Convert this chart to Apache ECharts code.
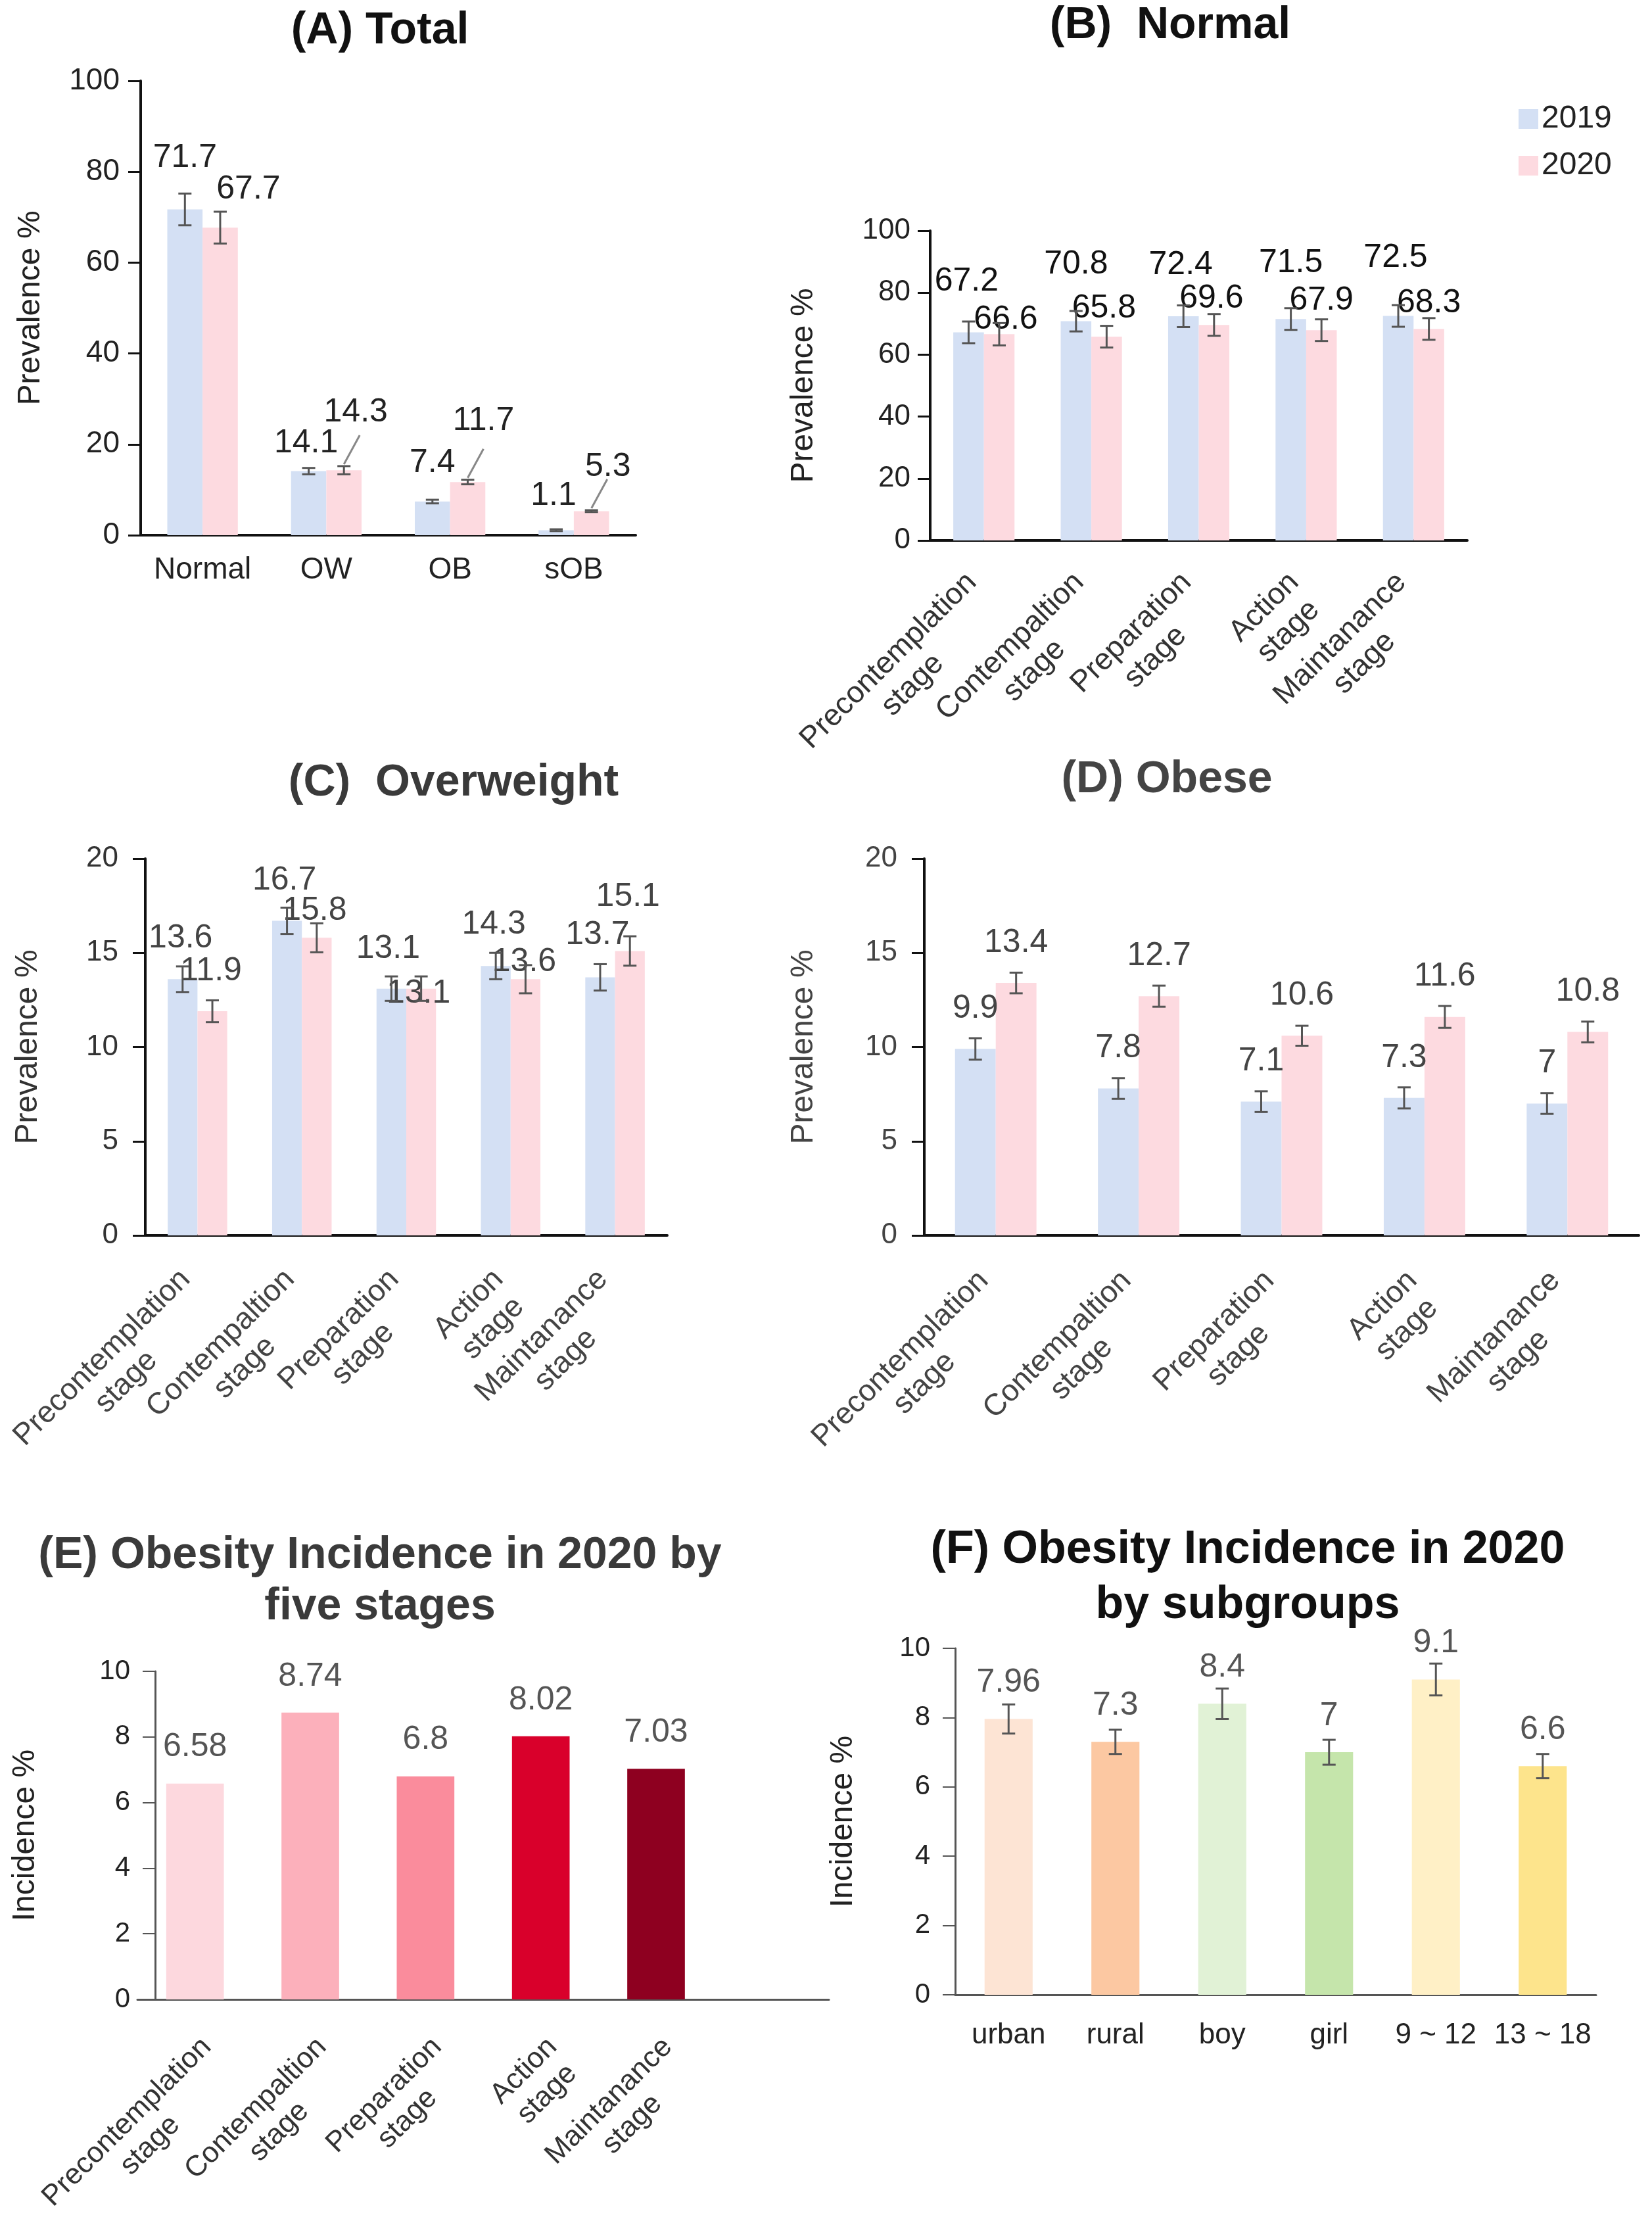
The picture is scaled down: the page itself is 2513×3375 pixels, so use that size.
<!DOCTYPE html>
<html>
<head>
<meta charset="utf-8">
<title>Obesity prevalence and incidence</title>
<script src="https://cdn.jsdelivr.net/npm/echarts@6/dist/echarts.min.js"></script>
<style>
html, body { margin: 0; padding: 0; background: #fff; }
#main { width: 2513px; height: 3375px; }
</style>
</head>
<body>
<div id="main"></div>
<script>
// ---- data ----
var catsA = ['Normal', 'OW', 'OB', 'sOB'];
var a2019 = [71.7, 14.1, 7.4, 1.1];
var a2020 = [67.7, 14.3, 11.7, 5.3];
var aErr2019 = [3.5, 0.7, 0.4, 0.2];
var aErr2020 = [3.5, 0.9, 0.5, 0.2];

var stages = ['Precontemplation\nstage', 'Contempaltion\nstage', 'Preparation\nstage', 'Action\nstage', 'Maintanance\nstage'];

var b2019 = [67.2, 70.8, 72.4, 71.5, 72.5];
var b2020 = [66.6, 65.8, 69.6, 67.9, 68.3];
var bErr2019 = [3.5, 3.3, 3.5, 3.5, 3.5];
var bErr2020 = [3.6, 3.5, 3.5, 3.5, 3.5];

var c2019 = [13.6, 16.7, 13.1, 14.3, 13.7];
var c2020 = [11.9, 15.8, 13.1, 13.6, 15.1];
var cErr2019 = [0.68, 0.7, 0.65, 0.7, 0.7];
var cErr2020 = [0.58, 0.77, 0.65, 0.75, 0.78];

var d2019 = [9.9, 7.8, 7.1, 7.3, 7];
var d2020 = [13.4, 12.7, 10.6, 11.6, 10.8];
var dErr2019 = [0.57, 0.55, 0.55, 0.56, 0.55];
var dErr2020 = [0.55, 0.56, 0.53, 0.58, 0.55];

var eVals = [6.58, 8.74, 6.8, 8.02, 7.03];

var fCats = ['urban', 'rural', 'boy', 'girl', '9 ~ 12', '13 ~ 18'];
var fVals = [7.96, 7.3, 8.4, 7, 9.1, 6.6];
var fErr = [0.42, 0.35, 0.44, 0.36, 0.46, 0.35];

// ---- colours / layout ----
var C2019 = '#d4e0f4', C2020 = '#fddae0';
var eColors = ['#fdd8de', '#fcb0bb', '#fa8c9c', '#d9002b', '#8e0020'];
var fColors = ['#fde4d4', '#fcc8a2', '#e1f2d6', '#c5e5ab', '#fff0c6', '#fde48c'];
var FONT = "'Liberation Sans', Arial, sans-serif";

// label nudges (pixels) so labels sit where the figure has them
var aDx19 = [0, -4, 0, -4], aDy19 = [-48, -12, -29, -22];
var aDx20 = [43, 18, 24, 25], aDy20 = [-28, -58, -63, -37];
var aLeader = [0, 1, 1, 1];
var bDx19 = [-3, 0, -4, 0, -4], bDy19 = [-47, -56, -48, -55, -58];
var bDx20 = [10, -4, -4, 0, 0], bDy20 = [8, -13, -10, -15, -9];
var cDx19 = [-3, -4, -5, -3, -4], cDy19 = [-32, -31, -30, -33, -34];
var cDx20 = [-2, -3, -4, -2, -3], cDy20 = [-31, -11, 38, 4, -52];

// error bar drawn at the middle of a grouped bar
function errorBar(frac, side) {
	return function (params, api) {
		var c = api.value(0), v = api.value(1), e = api.value(2);
		var band = api.size([1, 0])[0];
		var x = api.coord([c, v])[0] + side * frac * band / 2;
		var hi = api.coord([c, v + e])[1];
		var lo = api.coord([c, v - e])[1];
		var cw = 10;
		var st = { stroke: '#555', lineWidth: 3 };
		return {
			type: 'group',
			children: [
				{ type: 'line', shape: { x1: x, y1: hi, x2: x, y2: lo }, style: st },
				{ type: 'line', shape: { x1: x - cw, y1: hi, x2: x + cw, y2: hi }, style: st },
				{ type: 'line', shape: { x1: x - cw, y1: lo, x2: x + cw, y2: lo }, style: st }
			]
		};
	};
}

function errSeries(g, vals, errs, frac, side) {
	return {
		type: 'custom', xAxisIndex: g, yAxisIndex: g, silent: true, z: 10,
		renderItem: errorBar(frac, side),
		encode: { x: 0, y: 1 },
		data: vals.map(function (v, i) { return [i, v, errs[i]]; })
	};
}

// short slanted guide line from the top of the error bar towards its label
function leaderLine(frac, side) {
	return function (params, api) {
		if (!api.value(3)) return null;
		var c = api.value(0), v = api.value(1), e = api.value(2);
		var band = api.size([1, 0])[0];
		var x = api.coord([c, v])[0] + side * frac * band / 2;
		var y = api.coord([c, v + e])[1] - 3;
		return { type: 'line', shape: { x1: x, y1: y, x2: x + 24, y2: y - 44 },
			style: { stroke: '#888', lineWidth: 3 } };
	};
}

function barSeries(g, name, vals, color, width, dx, dy, labelColor) {
	return {
		type: 'bar', name: name, xAxisIndex: g, yAxisIndex: g,
		barWidth: width, barGap: '0%',
		itemStyle: { color: color },
		data: vals,
		label: { show: true, position: 'top', distance: 5, fontSize: 50, color: labelColor, fontFamily: FONT },
		labelLayout: function (p) { return { dx: dx[p.dataIndex], dy: dy[p.dataIndex] }; }
	};
}

function stageLabel(size, color, margin, vAlign) {
	var o = {
		interval: 0, rotate: 45, margin: margin, fontSize: size, color: color,
		formatter: function (v, idx) {
			if (v === undefined || v === null || idx >= stages.length) return '';
			return String(v).split('\n').map(function (s) { return '{c|' + s + '}'; }).join('\n');
		},
		rich: { c: { align: 'center', fontSize: size, lineHeight: size + 6, color: color, fontFamily: FONT } }
	};
	if (vAlign) o.verticalAlign = vAlign;
	return o;
}

function yAx(g, max, step, name, gap, lineColor, lineW, labelColor, labelSize, labelMargin) {
	return {
		type: 'value', gridIndex: g, min: 0, max: max, interval: step,
		name: name, nameLocation: 'middle', nameGap: gap,
		nameTextStyle: { fontSize: 48, color: labelColor, fontFamily: FONT },
		axisLine: { show: true, lineStyle: { color: lineColor, width: lineW } },
		axisTick: { show: true, length: 19, lineStyle: { color: lineColor, width: lineW - 1 } },
		splitLine: { show: false },
		axisLabel: { fontSize: labelSize, color: labelColor, margin: labelMargin }
	};
}

function gridAt(l, t, w, h) {
	return { left: l, top: t, width: w, height: h, containLabel: false, outerBoundsMode: 'none' };
}

var dark = '#111', gray = '#555';

var option = {
	backgroundColor: '#fff',
	animation: false,
	textStyle: { fontFamily: FONT },
	title: [
		{ text: '(A) Total', left: 578, top: 8, textAlign: 'center', padding: 0,
		  textStyle: { fontSize: 68, fontWeight: 'bold', color: '#111', lineHeight: 78 } },
		{ text: '(B)  Normal', left: 1780, top: 0, textAlign: 'center', padding: 0,
		  textStyle: { fontSize: 68, fontWeight: 'bold', color: '#111', lineHeight: 78 } },
		{ text: '(C)  Overweight', left: 690, top: 1152, textAlign: 'center', padding: 0,
		  textStyle: { fontSize: 68, fontWeight: 'bold', color: '#3a3a3a', lineHeight: 78 } },
		{ text: '(D) Obese', left: 1775, top: 1147, textAlign: 'center', padding: 0,
		  textStyle: { fontSize: 68, fontWeight: 'bold', color: '#444', lineHeight: 78 } },
		{ text: '(E) Obesity Incidence in 2020 by\nfive stages', left: 578, top: 2327, textAlign: 'center', padding: 0,
		  textStyle: { fontSize: 68, fontWeight: 'bold', color: '#3a3a3a', lineHeight: 78 } },
		{ text: '(F) Obesity Incidence in 2020\nby subgroups', left: 1898, top: 2316, textAlign: 'center', padding: 0,
		  textStyle: { fontSize: 70, fontWeight: 'bold', color: '#111', lineHeight: 84 } }
	],
	legend: {
		data: ['2019', '2020'], orient: 'vertical', left: 2305, top: 152,
		icon: 'rect', itemWidth: 30, itemHeight: 30, itemGap: 23,
		textStyle: { fontSize: 48, color: '#222' }
	},
	grid: [
		gridAt(214, 123, 753, 691),
		gridAt(1415, 351, 817, 471),
		gridAt(221, 1306, 794, 573),
		gridAt(1406, 1306, 1087, 573),
		gridAt(209, 2542, 1052, 499),
		gridAt(1453, 2507, 975, 527)
	],
	xAxis: [
		{ type: 'category', gridIndex: 0, data: catsA,
		  axisLine: { lineStyle: { color: dark, width: 4 } },
		  axisTick: { alignWithLabel: true, length: 18, lineStyle: { color: dark, width: 3 } },
		  axisLabel: { interval: 0, fontSize: 46, color: '#222', margin: 30 } },
		{ type: 'category', gridIndex: 1, data: stages,
		  axisLine: { lineStyle: { color: dark, width: 4 } },
		  axisTick: { alignWithLabel: true, length: 18, lineStyle: { color: dark, width: 3 } },
		  axisLabel: stageLabel(46, '#333', 75) },
		{ type: 'category', gridIndex: 2, data: stages,
		  axisLine: { lineStyle: { color: dark, width: 4 } },
		  axisTick: { alignWithLabel: true, length: 18, lineStyle: { color: dark, width: 3 } },
		  axisLabel: stageLabel(46, '#444', 78) },
		{ type: 'category', gridIndex: 3, data: stages,
		  axisLine: { lineStyle: { color: dark, width: 4 } },
		  axisTick: { alignWithLabel: false, length: 18, lineStyle: { color: dark, width: 3 } },
		  axisLabel: stageLabel(46, '#444', 80) },
		{ type: 'category', gridIndex: 4, data: stages, max: 5,
		  axisLine: { lineStyle: { color: gray, width: 3 } },
		  axisTick: { show: false },
		  axisLabel: stageLabel(44, '#333', 48, 'top') },
		{ type: 'category', gridIndex: 5, data: fCats,
		  axisLine: { lineStyle: { color: gray, width: 3 } },
		  axisTick: { alignWithLabel: true, length: 16, lineStyle: { color: gray, width: 2 } },
		  axisLabel: { interval: 0, fontSize: 44, color: '#222', margin: 40 } }
	],
	yAxis: [
		yAx(0, 100, 20, 'Prevalence %', 143, dark, 4, '#222', 46, 32),
		yAx(1, 100, 20, 'Prevalence %', 168, dark, 4, '#222', 44, 30),
		yAx(2, 20, 5, 'Prevalence %', 154, dark, 4, '#333', 44, 41),
		yAx(3, 20, 5, 'Prevalence %', 159, dark, 4, '#444', 44, 41),
		yAx(4, 10, 2, 'Incidence %', 173, gray, 3, '#222', 42, 38),
		yAx(5, 10, 2, 'Incidence %', 146, gray, 3, '#222', 42, 38)
	],
	series: []
};

// E axis line starts a bit left of the y axis, as in the figure
option.yAxis[4].offset = -27;

var W2 = '28.5%';
var S = option.series;

// (A)
S.push(barSeries(0, '2019', a2019, C2019, W2, aDx19, aDy19, '#222'));
S.push(barSeries(0, '2020', a2020, C2020, W2, aDx20, aDy20, '#222'));
S.push(errSeries(0, a2019, aErr2019, 0.285, -1));
S.push(errSeries(0, a2020, aErr2020, 0.285, 1));
S.push({
	type: 'custom', xAxisIndex: 0, yAxisIndex: 0, silent: true, z: 11,
	renderItem: leaderLine(0.285, 1), encode: { x: 0, y: 1 },
	data: a2020.map(function (v, i) { return [i, v, aErr2020[i], aLeader[i]]; })
});

// (B)
S.push(barSeries(1, '2019', b2019, C2019, W2, bDx19, bDy19, '#111'));
S.push(barSeries(1, '2020', b2020, C2020, W2, bDx20, bDy20, '#111'));
S.push(errSeries(1, b2019, bErr2019, 0.285, -1));
S.push(errSeries(1, b2020, bErr2020, 0.285, 1));

// (C)
S.push(barSeries(2, '2019', c2019, C2019, W2, cDx19, cDy19, '#444'));
S.push(barSeries(2, '2020', c2020, C2020, W2, cDx20, cDy20, '#444'));
S.push(errSeries(2, c2019, cErr2019, 0.285, -1));
S.push(errSeries(2, c2020, cErr2020, 0.285, 1));

// (D)
var zero5 = [0, 0, 0, 0, 0], up5 = [-31, -31, -31, -31, -31];
S.push(barSeries(3, '2019', d2019, C2019, W2, zero5, up5, '#444'));
S.push(barSeries(3, '2020', d2020, C2020, W2, zero5, up5, '#444'));
S.push(errSeries(3, d2019, dErr2019, 0.285, -1));
S.push(errSeries(3, d2020, dErr2020, 0.285, 1));

// (E)
S.push({
	type: 'bar', name: 'E', xAxisIndex: 4, yAxisIndex: 4, barWidth: '50%',
	data: eVals.map(function (v, i) { return { value: v, itemStyle: { color: eColors[i] } }; }),
	label: { show: true, position: 'top', distance: 5, fontSize: 50, color: '#555', offset: [0, -25] }
});

// (F)
S.push({
	type: 'bar', name: 'F', xAxisIndex: 5, yAxisIndex: 5, barWidth: '45%',
	data: fVals.map(function (v, i) { return { value: v, itemStyle: { color: fColors[i] } }; }),
	label: { show: true, position: 'top', distance: 5, fontSize: 50, color: '#555', offset: [0, -25] }
});
S.push(errSeries(5, fVals, fErr, 0, 0));

var chart = echarts.init(document.getElementById('main'), null, { renderer: 'canvas' });
chart.setOption(option);
</script>
</body>
</html>
